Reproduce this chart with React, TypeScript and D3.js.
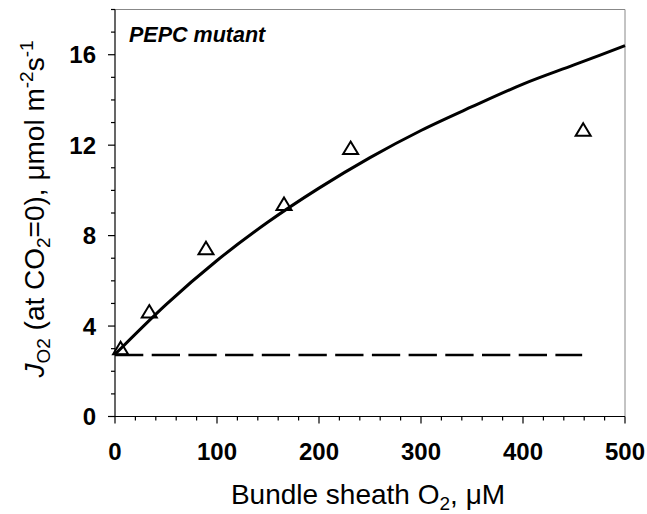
import React from "react";
import * as d3 from "d3";

const pointX = [5.5, 33.6, 89.2, 165.7, 231, 459];
const pointY = [3.02, 4.64, 7.44, 9.4, 11.87, 12.68];

const curveX = [0, 50, 100, 150, 200, 250, 300, 350, 400, 450, 500];
const curveY = [2.75, 4.95, 6.9, 8.6, 10.1, 11.45, 12.65, 13.7, 14.7, 15.55, 16.4];

const baselineY = 2.72;
const baselineX = [0, 458];

const xMajor = [0, 100, 200, 300, 400, 500];
const yMajor = [0, 4, 8, 12, 16];

const W = 647;
const H = 514;

export default function App() {
  const x = d3.scaleLinear().domain([0, 500]).range([115, 625]);
  const y = d3.scaleLinear().domain([0, 18]).range([416.5, 9.5]);

  const xMinor = d3.range(0, 501, 20);
  const yMinor = d3.range(0, 19, 1);

  const line = d3
    .line<number>()
    .x((_, i) => x(curveX[i]))
    .y((d) => y(d))
    .curve(d3.curveMonotoneX);

  const tri = "M0,-6.5 L7.5,6 L-7.5,6 Z";
  const font = "'Liberation Sans', Arial, sans-serif";

  return (
    <svg
      width={W}
      height={H}
      style={{ position: "absolute", left: 0, top: 0, background: "#fff" }}
      fontFamily={font}
    >
      {/* frame */}
      <line x1={x(0)} x2={x(500)} y1={y(18)} y2={y(18)} stroke="#888" strokeWidth={1} />
      <line x1={x(500)} x2={x(500)} y1={y(18)} y2={y(0)} stroke="#888" strokeWidth={1} />
      <line x1={x(0)} x2={x(500)} y1={y(0)} y2={y(0)} stroke="#000" strokeWidth={1.2} />
      <line x1={x(0)} x2={x(0)} y1={y(18)} y2={y(0)} stroke="#000" strokeWidth={1.2} />

      {/* x ticks */}
      {xMinor.map((v) => {
        const major = v % 100 === 0;
        return (
          <line key={"xt" + v} x1={x(v)} x2={x(v)} y1={y(0)} y2={y(0) + (major ? 7 : 4)} stroke="#000" strokeWidth={1.2} />
        );
      })}
      {/* y ticks */}
      {yMinor.map((v) => {
        const major = v % 4 === 0;
        return (
          <line key={"yt" + v} x1={x(0) - (major ? 7 : 4)} x2={x(0)} y1={y(v)} y2={y(v)} stroke="#000" strokeWidth={1.2} />
        );
      })}

      {/* tick labels */}
      {xMajor.map((v) => (
        <text key={"xl" + v} x={x(v)} y={460} textAnchor="middle" fontSize={24} fontWeight="bold">
          {v}
        </text>
      ))}
      {yMajor.map((v) => (
        <text key={"yl" + v} x={96} y={y(v)} dy="0.36em" textAnchor="end" fontSize={24} fontWeight="bold">
          {v}
        </text>
      ))}

      {/* dashed baseline */}
      <line
        x1={x(baselineX[0])}
        x2={x(baselineX[1])}
        y1={y(baselineY)}
        y2={y(baselineY)}
        stroke="#000"
        strokeWidth={2.6}
        strokeDasharray="28.3 8.4"
      />

      {/* fitted curve */}
      <path d={line(curveY) || ""} fill="none" stroke="#000" strokeWidth={3} />

      {/* data points */}
      {pointX.map((px, i) => (
        <path
          key={"p" + i}
          d={tri}
          transform={`translate(${x(px)},${y(pointY[i])})`}
          fill="none"
          stroke="#000"
          strokeWidth={2}
          strokeLinejoin="miter"
        />
      ))}

      {/* panel title */}
      <text x={129} y={42} fontSize={21.5} fontWeight="bold" fontStyle="italic">
        PEPC mutant
      </text>

      {/* x axis title */}
      <text x={368} y={504} textAnchor="middle" fontSize={28}>
        Bundle sheath O<tspan fontSize={19} dy={6}>2</tspan>
        <tspan dy={-6}>, μM</tspan>
      </text>

      {/* y axis title */}
      <text transform="translate(44,209) rotate(-90)" textAnchor="middle" fontSize={28}>
        <tspan fontStyle="italic">J</tspan>
        <tspan fontSize={19} dy={6}>O2</tspan>
        <tspan dy={-6}> (at CO</tspan>
        <tspan fontSize={19} dy={6}>2</tspan>
        <tspan dy={-6}>=0), μmol m</tspan>
        <tspan fontSize={19} dy={-11}>-2</tspan>
        <tspan dy={11}>s</tspan>
        <tspan fontSize={19} dy={-11}>-1</tspan>
      </text>
    </svg>
  );
}
